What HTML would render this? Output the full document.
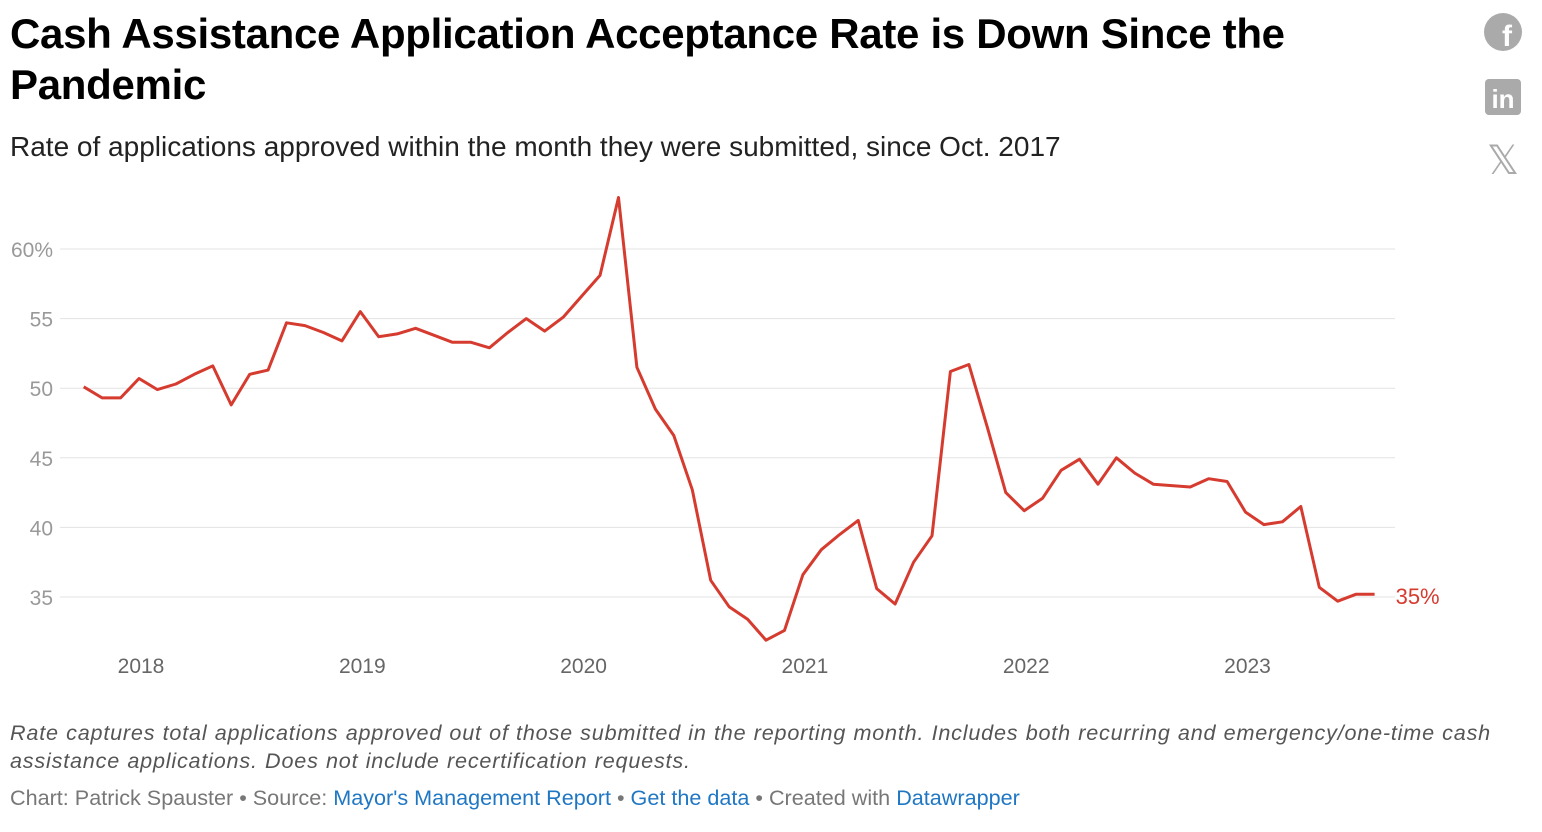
<!DOCTYPE html>
<html><head><meta charset="utf-8">
<style>
body{margin:0;background:#fff;font-family:"Liberation Sans",sans-serif;width:1542px;height:832px;overflow:hidden;position:relative}
.t{position:absolute;left:10px;top:8px;font-size:42px;font-weight:bold;line-height:51px;color:#000;width:1400px;letter-spacing:-0.3px}
.s{position:absolute;left:10px;top:131px;font-size:28px;color:#222}
.n{position:absolute;left:10px;top:719px;font-size:21.6px;font-style:italic;color:#555;line-height:28px;width:1520px;letter-spacing:0.8px;word-spacing:0.5px}
.c{position:absolute;left:10px;top:785px;font-size:21.6px;color:#777}
.c a{color:#1f77c4;text-decoration:none}
svg{position:absolute;left:0;top:0}
</style></head><body>
<div class="t">Cash Assistance Application Acceptance Rate is Down Since the Pandemic</div>
<div class="s">Rate of applications approved within the month they were submitted, since Oct. 2017</div>
<svg width="1542" height="832" id="chart"></svg>
<div class="n">Rate captures total applications approved out of those submitted in the reporting month. Includes both recurring and emergency/one-time cash assistance applications. Does not include recertification requests.</div>
<div class="c">Chart: Patrick Spauster • Source: <a>Mayor's Management Report</a> • <a>Get the data</a> • Created with <a>Datawrapper</a></div>
<script>
const values=[50.1,49.3,49.3,50.7,49.9,50.3,51.0,51.6,48.8,51.0,51.3,54.7,54.5,54.0,53.4,55.5,53.7,53.9,54.3,53.8,53.3,53.3,52.9,54.0,55.0,54.1,55.1,56.6,58.1,63.7,51.5,48.5,46.6,42.7,36.2,34.3,33.4,31.9,32.6,36.6,38.4,39.5,40.5,35.6,34.5,37.5,39.4,51.2,51.7,47.2,42.5,41.2,42.1,44.1,44.9,43.1,45.0,43.9,43.1,43.0,42.9,43.5,43.3,41.1,40.2,40.4,41.5,35.7,34.7,35.2,35.2];
const startYear=2017, startMonth=9; // Oct 2017 (0-based month)
const yTicks=[35,40,45,50,55,60];
const yearTicks=[2018,2019,2020,2021,2022,2023];
const NS="http://www.w3.org/2000/svg";
const svg=document.getElementById('chart');
const xm=t=>140+(t-2018)*221.3;
const xi=i=>xm(startYear+(startMonth+i)/12);
const y=v=>249+(60-v)*13.92;
function mk(tag,attrs){const e=document.createElementNS(NS,tag);for(const k in attrs)e.setAttribute(k,attrs[k]);svg.appendChild(e);return e;}
yTicks.forEach(v=>{
 const l=mk('line',{x1:60,x2:1395,y1:y(v),y2:y(v),stroke:'#e3e3e3','stroke-width':1});
 
 
 const t=mk('text',{x:53,y:y(v)+8,'text-anchor':'end','font-size':21,fill:'#999','font-family':'Liberation Sans, sans-serif'});
 t.textContent=v===60?'60%':v;
 
 
});
yearTicks.forEach(yr=>{
 const t=mk('text',{x:xm(yr)+1,y:673,'text-anchor':'middle','font-size':21,fill:'#666','font-family':'Liberation Sans, sans-serif'});
 t.textContent=yr;
 
 
});
const p=mk('path',{d:values.map((v,i)=>(i?'L':'M')+(xi(i)-1).toFixed(1)+','+y(v).toFixed(1)).join(''),fill:'none',stroke:'#d63b2f','stroke-width':3,'stroke-linejoin':'round'});


const last=values[values.length-1];
const lb=mk('text',{x:xi(values.length-1)+20,y:y(last)+10,'font-size':22,fill:'#d63b2f','font-family':'Liberation Sans, sans-serif'});
lb.textContent=Math.round(last)+'%';


</script>
<svg width="1542" height="832" style="pointer-events:none">
<g><circle cx="1503" cy="32" r="19" fill="#aaa"/><text x="1507" y="46" font-size="30" font-weight="bold" fill="#fff" text-anchor="middle" font-family="Liberation Sans,sans-serif">f</text></g>
<g><rect x="1485" y="79" width="36" height="36" rx="4" fill="#aaa"/><text x="1503" y="108" font-size="26" font-weight="bold" fill="#fff" text-anchor="middle" font-family="Liberation Sans,sans-serif">in</text></g>
<g><text x="1503" y="174" font-size="40" fill="#aaa" text-anchor="middle" font-family="DejaVu Sans,sans-serif">𝕏</text></g>
</svg>
</body></html>
